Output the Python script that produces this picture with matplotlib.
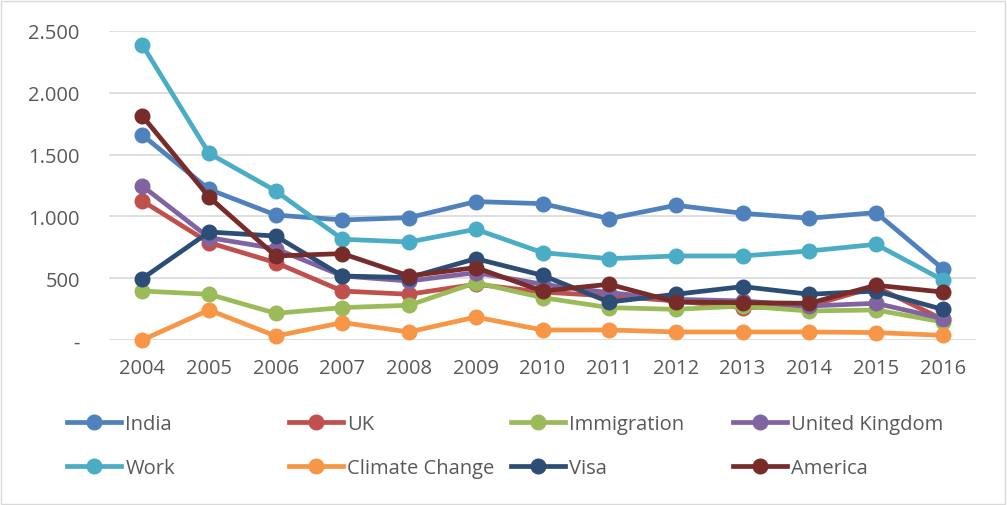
import matplotlib
matplotlib.use('Agg')
import matplotlib.pyplot as plt
from matplotlib.ticker import FuncFormatter
from matplotlib.lines import Line2D
from matplotlib.patches import Rectangle

# Data
years = [2004, 2005, 2006, 2007, 2008, 2009, 2010, 2011, 2012, 2013, 2014, 2015, 2016]
india = [1658, 1219, 1011, 971, 990, 1120, 1103, 982, 1090, 1025, 985, 1031, 577]
uk = [1125, 788, 626, 396, 370, 451, 388, 356, 316, 262, 275, 430, 167]
immigration = [396, 370, 216, 262, 281, 464, 343, 262, 248, 275, 235, 243, 146]
united_kingdom = [1246, 828, 739, 518, 477, 545, 451, 383, 329, 316, 275, 297, 173]
work = [2387, 1510, 1206, 815, 793, 896, 707, 658, 680, 680, 720, 774, 486]
climate_change = [0, 243, 32, 141, 65, 186, 81, 81, 65, 65, 65, 60, 38]
visa = [497, 874, 841, 518, 505, 658, 523, 307, 370, 432, 370, 396, 248]
america = [1812, 1157, 680, 699, 518, 586, 396, 451, 307, 302, 297, 443, 388]

names = ['India', 'UK', 'Immigration', 'United Kingdom',
         'Work', 'Climate Change', 'Visa', 'America']
series = [india, uk, immigration, united_kingdom,
          work, climate_change, visa, america]
colors = ['#4F81BD', '#C0504D', '#9BBB59', '#8064A2',
          '#4BACC6', '#F79646', '#2C4D75', '#772C2A']

plt.rcParams['font.family'] = ['Open Sans', 'DejaVu Sans']
text_color = '#595959'
fs = 14.5

fig = plt.figure(figsize=(10.07, 5.06), dpi=100)
ax = fig.add_axes([109 / 1007, 1 - 341 / 506, (976 - 109) / 1007, (341 - 32) / 506])

for name, vals, c in zip(names, series, colors):
    ax.plot(years, vals, color=c, lw=3.4, marker='o', markersize=10.5,
            label=name, clip_on=False, solid_capstyle='round', zorder=3)

ax.set_xlim(2003.5, 2016.5)
ax.set_ylim(0, 2500)
ax.set_xticks(years)
ax.set_yticks([0, 500, 1000, 1500, 2000, 2500])


def fmt(v, pos):
    if v == 0:
        return '-'
    return f'{int(v):,}'.replace(',', '.')


ax.yaxis.set_major_formatter(FuncFormatter(fmt))
ax.grid(axis='y', color='#D9D9D9', lw=1.2, zorder=0)
ax.set_axisbelow(True)
for s in ax.spines.values():
    s.set_visible(False)
ax.tick_params(length=0, labelsize=fs, colors=text_color)
ax.tick_params(axis='x', pad=13)
ax.tick_params(axis='y', pad=21)

# legend: 4 columns laid out like Excel, row-major order
col_x = [67, 289, 511, 733]
row_y = [425, 469]
for i in range(4):
    handles = []
    for j in (i, i + 4):
        handles.append(Line2D([], [], color=colors[j], lw=3.4, marker='o',
                              markersize=10.5, label=names[j]))
    fig.legend(handles=handles, loc='center left',
               bbox_to_anchor=(col_x[i] / 1007, 1 - (row_y[0] + row_y[1]) / 2 / 506),
               frameon=False, fontsize=fs, labelcolor=text_color,
               handlelength=2.7, handletextpad=0.2, labelspacing=1.2,
               borderpad=0, borderaxespad=0)

fig.patches.append(Rectangle((1 / 1007, 1 / 506), 1004 / 1007, 503 / 506,
                             transform=fig.transFigure, fill=False,
                             edgecolor='#D9D9D9', lw=1))

fig.savefig('out.png', dpi=100)
